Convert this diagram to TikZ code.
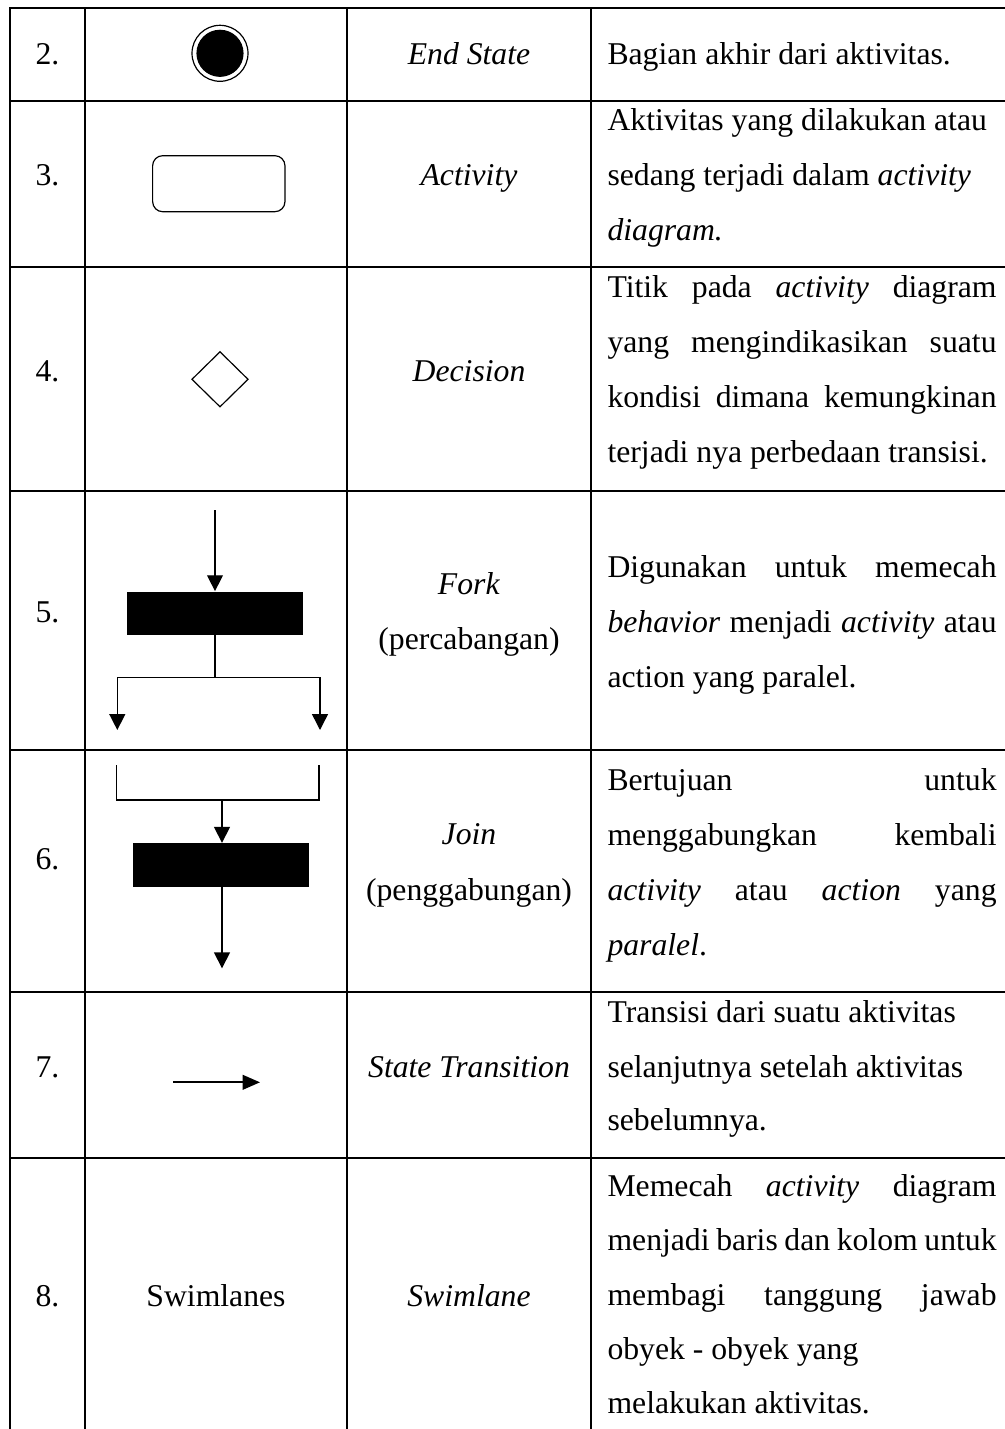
\documentclass[tikz,border=0pt]{standalone}
\usepackage{fontspec}
\setmainfont{Liberation Serif}
\usetikzlibrary{arrows.meta,shapes.geometric}
\newcommand{\jline}[1]{\makebox[147.3pt][s]{#1}}
\begin{document}
\begin{tikzpicture}[x=0.3786pt,y=-0.3786pt,
  grid/.style={line width=0.95pt,line cap=rect},
  sym/.style={line width=0.45pt},
  arr/.style={line width=0.55pt,-{Triangle[length=6pt,width=6pt]}},
  bar/.style={fill=black,draw=none,rectangle,inner sep=0pt},
  txt/.style={inner sep=0pt,anchor=base,font=\fontsize{12}{14}\selectfont},
  desc/.style={inner sep=0pt,anchor=base west,font=\fontsize{12}{14}\selectfont}]
\useasboundingbox (0,0) rectangle (1004,1429);
% grid
\foreach \yy in {8,101,267,491,750,992,1158}
  \draw[grid] (10,\yy) -- (1004,\yy);
\foreach \xx in {10,85,347,591}
  \draw[grid] (\xx,8) -- (\xx,1435);
% numbers
\node[txt] (n2) at (47.5,65) {2.};
\node[txt] (n3) at (47.5,185) {3.};
\node[txt] (n4) at (47.5,381) {4.};
\node[txt] (n5) at (47.5,622) {5.};
\node[txt] (n6) at (47.5,869) {6.};
\node[txt] (n7) at (47.5,1077) {7.};
\node[txt] (n8) at (47.5,1306) {8.};
% titles
\node[txt] (t2) at (469,65) {\textit{End State}};
\node[txt] (t3) at (469,185) {\textit{Activity}};
\node[txt] (t4) at (469,381) {\textit{Decision}};
\node[txt] (t5a) at (469,594) {\textit{Fork}};
\node[txt] (t5b) at (469,649) {(percabangan)};
\node[txt] (t6a) at (469,844) {\textit{Join}};
\node[txt] (t6b) at (469,900) {(penggabungan)};
\node[txt] (t7) at (469,1077) {\textit{State Transition}};
\node[txt] (t8) at (469,1306) {\textit{Swimlane}};
% descriptions
\node[desc] (d2) at (607,65) {Bagian akhir dari aktivitas.};
\node[desc] (d3a) at (607,130) {Aktivitas yang dilakukan atau};
\node[desc] (d3b) at (607,185) {sedang terjadi dalam \textit{activity}};
\node[desc] (d3c) at (607,240) {\textit{diagram.}};
\node[desc] (d4a) at (607,297) {\jline{Titik pada \textit{activity} diagram}};
\node[desc] (d4b) at (607,352) {\jline{yang mengindikasikan suatu}};
\node[desc] (d4c) at (607,407) {\jline{kondisi dimana kemungkinan}};
\node[desc] (d4d) at (607,462) {terjadi nya perbedaan transisi.};
\node[desc] (d5a) at (607,577) {\jline{Digunakan untuk memecah}};
\node[desc] (d5b) at (607,632) {\jline{\textit{behavior} menjadi \textit{activity} atau}};
\node[desc] (d5c) at (607,687) {action yang paralel.};
\node[desc] (d6a) at (607,790) {\jline{Bertujuan untuk}};
\node[desc] (d6b) at (607,845) {\jline{menggabungkan kembali}};
\node[desc] (d6c) at (607,900) {\jline{\textit{activity} atau \textit{action} yang}};
\node[desc] (d6d) at (607,955) {\textit{paralel}.};
\node[desc] (d7a) at (607,1022) {Transisi dari suatu aktivitas};
\node[desc] (d7b) at (607,1077) {selanjutnya setelah aktivitas};
\node[desc] (d7c) at (607,1130) {sebelumnya.};
\node[desc] (d8a) at (607,1196) {\jline{Memecah \textit{activity} diagram}};
\node[desc] (d8b) at (607,1250) {\jline{menjadi baris dan kolom untuk}};
\node[desc] (d8c) at (607,1305) {\jline{membagi tanggung jawab}};
\node[desc] (d8d) at (607,1359) {obyek - obyek yang};
\node[desc] (d8e) at (607,1413) {melakukan aktivitas.};
% col 2 symbols
\node[txt] (s8) at (216,1306) {Swimlanes};
\node[sym,draw,circle,minimum size=21.2pt,inner sep=0pt] (esout) at (220,53.3) {};
\node[sym,draw,fill=black,circle,minimum size=17.4pt,inner sep=0pt] (esin) at (220,53.3) {};
\node[sym,draw,rectangle,rounded corners=3.8pt,minimum width=50.1pt,minimum height=21.2pt,inner sep=0pt] (act) at (218.8,183.7) {};
\node[sym,draw,diamond,minimum width=21.4pt,minimum height=21pt,inner sep=0pt] (dec) at (220,379.3) {};
% fork
\node[bar,minimum width=66.4pt,minimum height=16.4pt] (fbar) at (215,613.3) {};
\coordinate (fin) at (215,510);
\coordinate (fsplit) at (215,677.7);
\coordinate (fl) at (117.3,730);
\coordinate (fr) at (320,730);
\draw[arr] (fin) -- (fbar.north);
\draw[line width=0.55pt] (fbar.south) -- (fsplit);
\draw[arr] (fsplit) -| (fl);
\draw[arr] (fsplit) -| (fr);
% join
\node[bar,minimum width=66.6pt,minimum height=16.4pt] (jbar) at (221.3,865) {};
\coordinate (jl) at (116.7,765);
\coordinate (jr) at (319,765);
\coordinate (jm) at (222,800);
\coordinate (jout) at (222,968.3);
\draw[line width=0.55pt] (jl) |- (jm) -| (jr);
\draw[arr] (jm) -- (jm |- jbar.north);
\draw[arr] (jm |- jbar.south) -- (jout);
% transition
\coordinate (ts) at (173.3,1082.3);
\coordinate (te) at (260,1082.3);
\draw[line width=0.65pt,-{Triangle[length=6.6pt,width=5.6pt]}] (ts) -- (te);
\end{tikzpicture}
\end{document}
